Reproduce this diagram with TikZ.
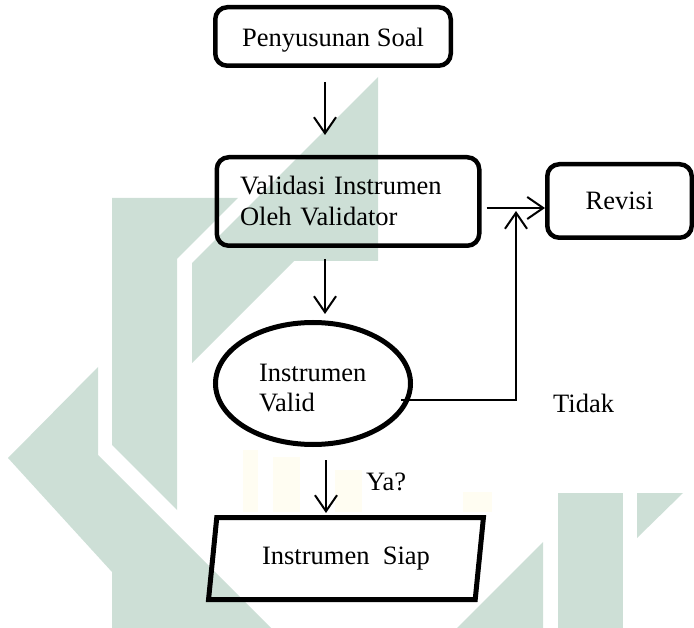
\documentclass[tikz,border=0pt]{standalone}
\usepackage{fontspec}
\setmainfont{Liberation Serif}
\usetikzlibrary{arrows.meta,positioning,shapes.geometric}
\definecolor{wmteal}{RGB}{205,223,214}
\definecolor{wmyellow}{RGB}{255,253,242}
\tikzset{
  >={Straight Barb[length=16pt,width=22pt]},
  flowbox/.style={
    draw, rectangle, rounded corners=12pt, line width=4.5pt, align=left,
    font=\fontsize{26.5}{31}\selectfont, inner sep=0pt
  },
  decision/.style={
    draw, ellipse, line width=5pt, align=left,
    font=\fontsize{26.5}{30}\selectfont, inner sep=0pt
  },
  iobox/.style={
    draw, trapezium, trapezium left angle=77, trapezium right angle=103,
    trapezium stretches=true, line width=5pt,
    font=\fontsize{26.5}{31}\selectfont, inner sep=0pt
  },
  tag/.style={font=\fontsize{26.5}{31}\selectfont, inner sep=0pt},
  flow/.style={->, line width=2pt},
  logo/.style={fill=wmteal, draw=none},
  logoy/.style={fill=wmyellow, draw=none},
}
\begin{document}
\begin{tikzpicture}[x=1pt, y=-1pt]
  \useasboundingbox (0,0) rectangle (694,628);
  % watermark
  \fill[logo] (8,458) -- (98,367) -- (98,455) -- (271,628) -- (112,628) -- (112,572) -- cycle;
  \fill[logo] (112,198) -- (238,198) -- (177,259) -- (177,510) -- (112,445) -- cycle;
  \fill[logo] (192,263) -- (378,77) -- (378,261) -- (294,261) -- (192,363) -- cycle;
  \fill[logo] (457,628) -- (543,542) -- (543,628) -- cycle;
  \fill[logo] (558,493) rectangle (623,628);
  \fill[logo] (637,493) -- (683,493) -- (637,538) -- cycle;
  \fill[logoy] (243,450) rectangle (258,512);
  \fill[logoy] (273,457) rectangle (300,512);
  \fill[logoy] (335,470) rectangle (362,512);
  \fill[logoy] (463,492) rectangle (492,512);

  % nodes
  \node[flowbox, minimum width=235.5pt, minimum height=58.5pt,
        text height=20pt, text depth=0pt] (soal) at (333,36.5) {Penyusunan Soal};
  \node[flowbox, minimum width=262.5pt, minimum height=88.5pt,
        text width=216pt] (valid) at (348,201.5) {Validasi Instrumen\\Oleh Validator};
  \node[flowbox, minimum width=144.5pt, minimum height=73.5pt] (revisi) at (619.5,201) {Revisi};
  \node[decision, minimum width=195pt, minimum height=122pt,
        text width=108pt, text height=26pt] (ell) at (313,383.5) {Instrumen\\Valid};
  \node[iobox, minimum width=275pt, minimum height=82pt] (siap) at (346,558.5) {Instrumen\ \ Siap};
  \node[tag, anchor=base west] (tidak) at (553,413) {Tidak};
  \node[tag, anchor=base west] (ya) at (366,490) {Ya?};

  % connectors
  \coordinate (ax) at (325,0);
  \coordinate (jn) at (516,208);
  \coordinate (st) at ([xshift=-8pt]ell.-10);
  \draw[flow, shorten <=14pt, shorten >=20pt] (soal.south -| ax) -- (valid.north -| ax);
  \draw[flow, shorten <=11pt, shorten >=6pt] (valid.south -| ax) -- (ell.north -| ax);
  \draw[flow, shorten <=13pt, shorten >=2pt] ([xshift=1pt]ell.south -| ax) -- ([xshift=1pt]siap.north -| ax);
  \draw[flow, shorten <=5pt] (valid.east |- jn) -- (revisi.west |- jn);
  \draw[flow, shorten >=3pt] (st) -- (st -| jn) -- (jn);
\end{tikzpicture}
\end{document}
